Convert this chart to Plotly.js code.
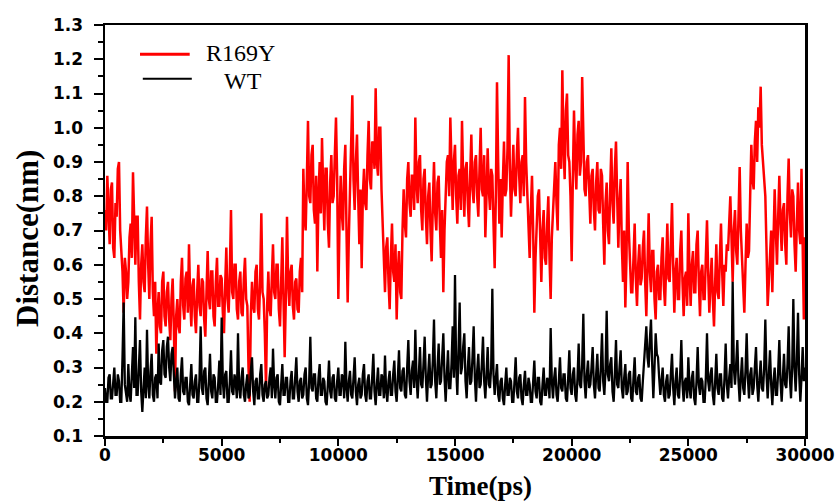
<!DOCTYPE html>
<html>
<head>
<meta charset="utf-8">
<script src="https://cdn.plot.ly/plotly-3.0.1.min.js"></script>
<style>html,body{margin:0;padding:0;background:#fff;}#chart{width:837px;height:502px;}</style>
</head>
<body>
<div id="chart"></div>
<script>
// Series names
var seriesNames = ["R169Y", "WT"];
// Time step between frames (ps)
var timeStep = 50;
// R169Y distance (nm), one value every 50 ps from 0 to 30000 ps (20 values per 1000 ps row)
var r169y = [
0.76,0.70,0.86,0.72,0.66,0.82,0.84,0.65,0.62,0.78,0.74,0.88,0.90,0.70,0.64,0.58,0.46,0.62,0.58,0.50,
0.55,0.68,0.72,0.62,0.87,0.70,0.60,0.74,0.74,0.55,0.44,0.60,0.66,0.55,0.52,0.68,0.77,0.60,0.50,0.66,
0.74,0.52,0.45,0.55,0.34,0.46,0.52,0.42,0.40,0.55,0.58,0.45,0.42,0.52,0.55,0.44,0.38,0.50,0.56,0.42,
0.23,0.45,0.50,0.42,0.40,0.55,0.62,0.48,0.44,0.56,0.58,0.46,0.66,0.50,0.42,0.54,0.56,0.45,0.40,0.52,
0.60,0.48,0.45,0.56,0.55,0.44,0.39,0.52,0.64,0.50,0.47,0.58,0.58,0.45,0.42,0.55,0.62,0.48,0.48,0.57,
0.56,0.46,0.40,0.54,0.65,0.50,0.46,0.58,0.76,0.52,0.50,0.60,0.60,0.47,0.44,0.55,0.58,0.46,0.45,0.56,
0.62,0.50,0.48,0.30,0.20,0.45,0.55,0.48,0.46,0.58,0.60,0.47,0.44,0.56,0.75,0.52,0.50,0.40,0.24,0.48,
0.58,0.47,0.45,0.56,0.66,0.52,0.50,0.60,0.60,0.47,0.42,0.55,0.68,0.50,0.33,0.50,0.74,0.55,0.48,0.58,
0.60,0.48,0.44,0.55,0.56,0.47,0.46,0.58,0.62,0.52,0.88,0.74,0.70,0.85,1.02,0.80,0.78,0.92,0.95,0.76,
0.72,0.86,0.58,0.80,0.90,0.75,0.97,0.82,0.70,0.88,0.88,0.72,0.65,0.84,0.92,0.78,0.80,0.92,1.03,0.85,
0.50,0.72,0.86,0.75,0.70,0.88,0.95,0.70,0.49,0.68,0.82,0.90,1.095,0.85,0.76,0.90,0.98,0.80,0.66,0.82,
0.59,0.80,0.88,0.78,0.76,0.92,1.02,0.85,0.82,0.96,0.95,0.88,1.115,0.90,0.86,1.00,1.00,0.82,0.70,0.62,
0.52,0.65,0.68,0.55,0.47,0.62,0.72,0.58,0.55,0.66,0.44,0.58,0.64,0.52,0.50,0.70,0.82,0.72,0.68,0.85,
0.90,0.78,0.74,0.86,0.86,0.76,1.03,0.84,0.78,0.90,0.92,0.76,0.70,0.85,0.88,0.74,0.66,0.80,0.84,0.70,
0.61,0.78,0.90,0.75,0.70,0.84,0.86,0.72,0.62,0.76,0.52,0.70,0.80,0.90,0.92,0.80,1.03,0.85,0.76,0.90,
0.95,0.80,0.72,0.86,0.88,0.76,1.02,0.85,0.74,0.88,0.90,0.78,0.71,0.86,0.98,0.82,0.78,0.90,0.92,0.80,
0.74,0.88,1.00,0.82,0.80,0.92,0.68,0.80,0.94,0.82,0.76,0.88,0.86,0.72,0.59,0.80,1.133,0.90,0.72,0.85,
0.68,0.84,0.96,0.80,0.82,0.94,1.212,0.88,0.74,0.85,0.95,0.82,0.80,0.92,1.00,0.86,0.78,0.90,0.92,0.80,
1.09,0.90,0.80,0.70,0.62,0.76,0.86,0.70,0.46,0.62,0.70,0.80,0.82,0.66,0.55,0.70,0.76,0.62,0.60,0.72,
0.80,0.62,0.50,0.68,0.75,0.86,0.90,0.78,0.70,0.95,1.00,0.88,1.168,0.95,0.85,1.05,1.10,0.92,0.90,0.80,
0.61,0.85,1.05,0.90,0.82,0.98,1.02,0.86,0.90,1.148,0.95,0.82,0.80,0.90,0.92,0.78,0.72,0.86,0.88,0.76,
0.70,0.84,0.90,0.76,0.75,0.88,0.86,0.72,0.60,0.78,0.84,0.70,0.66,0.82,0.94,0.78,0.72,0.88,0.96,0.80,
0.65,0.78,0.85,0.66,0.55,0.70,0.475,0.62,0.90,0.70,0.62,0.52,0.52,0.66,0.72,0.56,0.48,0.60,0.66,0.54,
0.56,0.65,0.70,0.55,0.45,0.60,0.75,0.58,0.52,0.64,0.64,0.50,0.44,0.58,0.60,0.50,0.50,0.62,0.68,0.54,
0.48,0.60,0.72,0.56,0.55,0.66,0.78,0.60,0.46,0.58,0.62,0.50,0.50,0.64,0.70,0.55,0.45,0.56,0.58,0.48,
0.75,0.58,0.48,0.60,0.64,0.52,0.52,0.66,0.70,0.55,0.45,0.58,0.60,0.50,0.50,0.62,0.73,0.58,0.46,0.55,
0.62,0.50,0.42,0.55,0.66,0.52,0.50,0.62,0.72,0.58,0.48,0.60,0.58,0.66,0.64,0.72,0.80,0.68,0.55,0.70,
0.76,0.64,0.60,0.74,0.885,0.70,0.62,0.55,0.46,0.60,0.72,0.62,0.64,0.80,0.95,0.85,0.82,0.96,1.02,0.90,
1.06,1.00,1.12,0.95,0.90,0.82,0.80,0.65,0.48,0.55,0.62,0.70,0.52,0.68,0.82,0.70,0.60,0.74,0.86,0.72,
0.64,0.76,0.78,0.66,0.60,0.80,0.91,0.75,0.68,0.82,0.80,0.66,0.58,0.72,0.84,0.70,0.66,0.88,0.66,0.44,
0.68];
// WT distance (nm), one value every 50 ps from 0 to 30000 ps (20 values per 1000 ps row)
var wt = [
0.24,0.20,0.20,0.27,0.28,0.21,0.21,0.26,0.30,0.22,0.22,0.28,0.26,0.20,0.20,0.33,0.49,0.25,0.23,0.20,
0.31,0.22,0.20,0.28,0.36,0.24,0.447,0.22,0.22,0.30,0.38,0.23,0.17,0.24,0.30,0.21,0.41,0.25,0.21,0.29,
0.34,0.22,0.20,0.27,0.28,0.21,0.37,0.26,0.25,0.35,0.38,0.28,0.27,0.36,0.39,0.30,0.26,0.34,0.36,0.28,
0.21,0.26,0.30,0.21,0.20,0.28,0.33,0.23,0.22,0.27,0.27,0.20,0.19,0.25,0.31,0.22,0.21,0.26,0.28,0.20,
0.20,0.27,0.42,0.24,0.22,0.29,0.30,0.21,0.19,0.26,0.34,0.23,0.21,0.28,0.27,0.20,0.20,0.25,0.32,0.22,
0.446,0.26,0.21,0.28,0.29,0.20,0.20,0.26,0.35,0.23,0.22,0.28,0.26,0.21,0.40,0.24,0.21,0.27,0.30,0.22,
0.20,0.25,0.28,0.21,0.22,0.29,0.33,0.23,0.19,0.26,0.27,0.21,0.21,0.28,0.31,0.22,0.20,0.25,0.26,0.21,
0.22,0.27,0.30,0.21,0.355,0.25,0.21,0.27,0.28,0.20,0.19,0.25,0.31,0.22,0.22,0.27,0.27,0.20,0.20,0.26,
0.29,0.21,0.21,0.27,0.33,0.23,0.20,0.26,0.27,0.21,0.22,0.28,0.30,0.21,0.19,0.26,0.39,0.24,0.23,0.28,
0.28,0.21,0.20,0.27,0.31,0.22,0.22,0.27,0.26,0.20,0.19,0.25,0.32,0.23,0.21,0.27,0.28,0.21,0.20,0.26,
0.30,0.22,0.22,0.28,0.27,0.21,0.375,0.24,0.20,0.26,0.29,0.22,0.21,0.27,0.33,0.23,0.19,0.25,0.27,0.21,
0.22,0.28,0.31,0.22,0.20,0.26,0.28,0.21,0.21,0.27,0.34,0.23,0.19,0.25,0.30,0.22,0.22,0.28,0.27,0.21,
0.335,0.23,0.20,0.26,0.29,0.22,0.22,0.28,0.32,0.23,0.20,0.27,0.35,0.24,0.23,0.29,0.30,0.22,0.21,0.30,
0.38,0.26,0.22,0.29,0.32,0.24,0.41,0.27,0.21,0.28,0.36,0.25,0.24,0.31,0.39,0.27,0.20,0.28,0.34,0.24,
0.25,0.32,0.44,0.26,0.21,0.30,0.37,0.25,0.26,0.33,0.40,0.27,0.20,0.28,0.35,0.24,0.24,0.31,0.42,0.27,
0.57,0.30,0.22,0.35,0.49,0.28,0.30,0.36,0.40,0.26,0.21,0.30,0.36,0.25,0.26,0.33,0.42,0.27,0.20,0.29,
0.34,0.24,0.25,0.31,0.39,0.26,0.21,0.28,0.36,0.25,0.24,0.30,0.53,0.28,0.22,0.27,0.31,0.22,0.20,0.26,
0.27,0.21,0.19,0.25,0.30,0.22,0.22,0.27,0.26,0.20,0.20,0.26,0.33,0.23,0.21,0.27,0.28,0.21,0.19,0.25,
0.29,0.22,0.22,0.27,0.25,0.20,0.20,0.26,0.32,0.23,0.21,0.27,0.27,0.20,0.19,0.25,0.30,0.22,0.22,0.27,
0.26,0.21,0.415,0.26,0.21,0.27,0.30,0.22,0.20,0.26,0.33,0.24,0.23,0.28,0.28,0.21,0.20,0.27,0.35,0.24,
0.22,0.28,0.30,0.22,0.20,0.27,0.37,0.25,0.24,0.31,0.457,0.26,0.21,0.28,0.32,0.24,0.25,0.30,0.36,0.25,
0.21,0.28,0.34,0.24,0.23,0.30,0.40,0.26,0.22,0.29,0.466,0.28,0.26,0.31,0.33,0.23,0.20,0.28,0.38,0.25,
0.24,0.30,0.35,0.24,0.21,0.27,0.31,0.22,0.23,0.28,0.29,0.21,0.20,0.27,0.33,0.23,0.22,0.27,0.28,0.21,
0.20,0.26,0.32,0.36,0.42,0.33,0.30,0.38,0.44,0.31,0.21,0.30,0.40,0.34,0.33,0.27,0.22,0.26,0.30,0.22,
0.20,0.26,0.28,0.21,0.22,0.28,0.34,0.24,0.19,0.26,0.30,0.22,0.21,0.28,0.38,0.25,0.20,0.26,0.27,0.21,
0.33,0.24,0.21,0.27,0.29,0.21,0.19,0.26,0.36,0.25,0.22,0.27,0.26,0.20,0.20,0.27,0.40,0.26,0.23,0.28,
0.30,0.22,0.19,0.26,0.34,0.24,0.22,0.28,0.28,0.21,0.20,0.27,0.37,0.25,0.21,0.27,0.31,0.24,0.55,0.30,
0.25,0.31,0.38,0.26,0.20,0.27,0.33,0.24,0.22,0.29,0.40,0.27,0.21,0.28,0.30,0.22,0.24,0.30,0.36,0.25,
0.20,0.27,0.32,0.24,0.23,0.30,0.44,0.28,0.21,0.28,0.35,0.25,0.19,0.26,0.30,0.22,0.22,0.29,0.38,0.26,
0.20,0.27,0.34,0.25,0.24,0.31,0.42,0.27,0.21,0.30,0.50,0.30,0.23,0.32,0.46,0.28,0.20,0.27,0.36,0.26,
0.30];
var xTickVals = [0, 5000, 10000, 15000, 20000, 25000, 30000];
var yTickVals = [0.1,0.2,0.3,0.4,0.5,0.6,0.7,0.8,0.9,1.0,1.1,1.2,1.3];
var xTitle = "Time(ps)";
var yTitle = "Distance(nm)";

function timesFor(arr){ var t=[]; for(var i=0;i<arr.length;i++){ t.push(i*timeStep); } return t; }

var traces = [
  {x: timesFor(r169y), y: r169y, name: seriesNames[0], type:'scatter', mode:'lines',
   line:{color:'#ff0000', width:2.5}, showlegend:false, hoverinfo:'skip'},
  {x: timesFor(wt), y: wt, name: seriesNames[1], type:'scatter', mode:'lines',
   line:{color:'#000000', width:2.3}, showlegend:false, hoverinfo:'skip'}
];

var tickFont = {family:'"DejaVu Sans", sans-serif', size:17, color:'#000', weight:'bold'};
var axisCommon = {
  showgrid:false, zeroline:false, showline:true, linecolor:'#000', linewidth:2.5, mirror:true,
  ticks:'outside', tickcolor:'#000', tickwidth:2, ticklen:8, tickfont:tickFont
};

var serif = '"Liberation Serif", "Times New Roman", serif';

var layout = {
  width:837, height:502,
  margin:{l:105, r:32, t:25, b:66, pad:0},
  paper_bgcolor:'#fff', plot_bgcolor:'#fff',
  showlegend:false,
  xaxis: Object.assign({}, axisCommon, {
    range:[0,30000], tickvals:xTickVals, ticktext:xTickVals.map(String),
    ticklen:7, ticklabelstandoff:-5,
    minor:{dtick:2500, tick0:0, ticks:'outside', ticklen:4, tickwidth:2, tickcolor:'#000'}
  }),
  yaxis: Object.assign({}, axisCommon, {
    range:[0.1,1.3], tickvals:yTickVals, ticktext:yTickVals.map(function(v){return v.toFixed(1);}),
    ticklen:9, ticklabelstandoff:7,
    minor:{dtick:0.05, tick0:0.1, ticks:'outside', ticklen:5, tickwidth:2, tickcolor:'#000'}
  }),
  shapes:[
    {type:'line', xref:'paper', yref:'paper', x0:0.050, x1:0.121, y0:0.929, y1:0.929, line:{color:'#ff0000', width:3}},
    {type:'line', xref:'paper', yref:'paper', x0:0.054, x1:0.124, y0:0.869, y1:0.869, line:{color:'#000000', width:2}}
  ],
  annotations:[
    {xref:'paper', yref:'paper', x:0.141, y:(436-53)/411, xanchor:'left', yanchor:'middle', showarrow:false,
     text:seriesNames[0], font:{family:serif, size:24, color:'#000'}},
    {xref:'paper', yref:'paper', x:0.167, y:(436-81)/411, xanchor:'left', yanchor:'middle', showarrow:false,
     text:seriesNames[1], font:{family:serif, size:24, color:'#000'}},
    {xref:'paper', yref:'paper', x:(480-105)/700, y:-(486-436)/411, xanchor:'center', yanchor:'middle', showarrow:false,
     text:xTitle, font:{family:serif, size:27, color:'#000', weight:'bold'}},
    {xref:'paper', yref:'paper', x:-(105-27)/700, y:(436-239)/411, xanchor:'center', yanchor:'middle', showarrow:false, textangle:-90,
     text:yTitle, font:{family:serif, size:31, color:'#000', weight:'bold'}}
  ]
};

Plotly.newPlot('chart', traces, layout, {staticPlot:true, displayModeBar:false});
</script>
</body>
</html>
